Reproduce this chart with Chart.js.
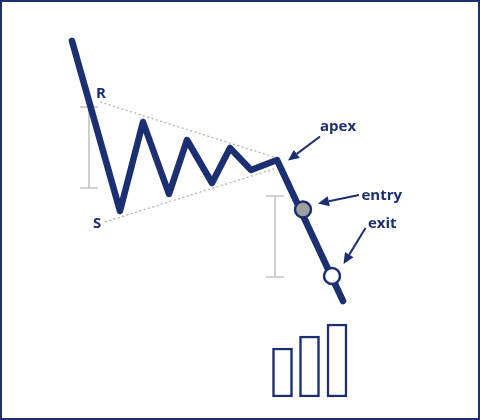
<!DOCTYPE html>
<html>
<head>
<meta charset="utf-8">
<script src="https://cdn.jsdelivr.net/npm/chart.js@4/dist/chart.umd.min.js"></script>
<style>
html,body{margin:0;padding:0;background:#fff;}
#wrap{position:relative;width:480px;height:420px;}
canvas{display:block;}
</style>
</head>
<body>
<div id="wrap"><canvas id="c" width="480" height="420"></canvas></div>
<script>
// ---- data (time units on x, price units on y) ----
const priceDays   = [72, 120, 143, 169, 187, 212, 230, 251, 277, 343];
const priceValues = [379, 209, 298, 226, 280, 237, 272, 250, 260, 119];

const resistanceDays   = [100, 277];
const resistanceValues = [318, 262];
const supportDays      = [105, 277];
const supportValues    = [198, 252];

const signalDays   = [303, 332];
const signalValues = [210.5, 144];
const signalNames  = ['entry', 'exit'];

const rangeDays  = [89, 275];
const rangeHighs = [313, 224];
const rangeLows  = [232, 143];

const volumeDays   = [282.5, 309.5, 337];
const volumeTops   = [72, 84, 96];
const volumeBase   = 23;

const labelTexts = ['R', 'S', 'apex', 'entry', 'exit'];

// ---- styling / layout (not data) ----
const NAVY = '#1b2f72';
const GREY_LINE = '#c4c4c4';
const CAP = 9;
const labelPos = [
  {x: 96, y: 322}, {x: 93, y: 192}, {x: 320, y: 289}, {x: 361.5, y: 220}, {x: 368, y: 192}
];
const arrows = [
  {from: {x: 320, y: 283.5}, to: {x: 288, y: 259.5}},
  {from: {x: 359, y: 225}, to: {x: 318, y: 216.5}},
  {from: {x: 365.5, y: 192}, to: {x: 343.5, y: 156}}
];

const pts = (xs, ys) => xs.map((x, i) => ({x, y: ys[i]}));

const rangeDatasets = [];
rangeDays.forEach((d, i) => {
  rangeDatasets.push({
    type: 'line',
    data: [
      {x: d - CAP, y: rangeHighs[i]}, {x: d + CAP, y: rangeHighs[i]}, {x: d, y: null},
      {x: d, y: rangeHighs[i]}, {x: d, y: rangeLows[i]}, {x: d, y: null},
      {x: d - CAP, y: rangeLows[i]}, {x: d + CAP, y: rangeLows[i]}
    ],
    borderColor: GREY_LINE, borderWidth: 1.6, pointRadius: 0, spanGaps: false, order: 5
  });
});

const overlay = {
  id: 'overlay',
  afterDatasetsDraw(chart) {
    const {ctx, scales: {x, y}} = chart;
    ctx.save();
    // arrows
    ctx.strokeStyle = NAVY; ctx.fillStyle = NAVY; ctx.lineWidth = 2;
    arrows.forEach(a => {
      const x1 = x.getPixelForValue(a.from.x), y1 = y.getPixelForValue(a.from.y);
      const x2 = x.getPixelForValue(a.to.x), y2 = y.getPixelForValue(a.to.y);
      const ang = Math.atan2(y2 - y1, x2 - x1);
      const L = 11, W = 5;
      const bx = x2 - L * Math.cos(ang), by = y2 - L * Math.sin(ang);
      ctx.beginPath(); ctx.moveTo(x1, y1); ctx.lineTo(bx, by); ctx.stroke();
      ctx.beginPath();
      ctx.moveTo(x2, y2);
      ctx.lineTo(bx + W * Math.sin(ang), by - W * Math.cos(ang));
      ctx.lineTo(bx - W * Math.sin(ang), by + W * Math.cos(ang));
      ctx.closePath(); ctx.fill();
    });
    // labels
    ctx.font = 'bold 15px "Open Sans", sans-serif';
    ctx.textAlign = 'left'; ctx.textBaseline = 'alphabetic';
    labelTexts.forEach((t, i) => {
      ctx.fillText(t, x.getPixelForValue(labelPos[i].x), y.getPixelForValue(labelPos[i].y));
    });
    // frame
    ctx.strokeStyle = NAVY; ctx.lineWidth = 2;
    ctx.strokeRect(1, 1, chart.width - 2, chart.height - 2);
    ctx.restore();
  }
};

new Chart(document.getElementById('c'), {
  type: 'scatter',
  data: {
    datasets: [
      {
        type: 'line', label: 'price', data: pts(priceDays, priceValues),
        borderColor: NAVY, borderWidth: 6.5, pointRadius: 0, tension: 0,
        borderCapStyle: 'round', borderJoinStyle: 'round', order: 2
      },
      {
        type: 'line', label: 'resistance', data: pts(resistanceDays, resistanceValues),
        borderColor: '#b0b0b0', borderWidth: 1.3, borderDash: [2, 2.5], pointRadius: 0, order: 4
      },
      {
        type: 'line', label: 'support', data: pts(supportDays, supportValues),
        borderColor: '#b0b0b0', borderWidth: 1.3, borderDash: [2, 2.5], pointRadius: 0, order: 4
      },
      ...rangeDatasets,
      {
        type: 'scatter', label: 'signals', data: pts(signalDays, signalValues),
        pointRadius: 8, borderWidth: 2.5, borderColor: NAVY,
        pointBackgroundColor: signalNames.map(n => n === 'entry' ? '#a0a0a0' : '#ffffff'),
        order: 1
      },
      {
        type: 'bar', label: 'volume',
        data: volumeDays.map((d, i) => ({x: d, y: [volumeBase, volumeTops[i]]})),
        backgroundColor: '#ffffff', borderColor: NAVY, borderWidth: 2.5,
        borderSkipped: false, barThickness: 20, order: 3
      }
    ]
  },
  options: {
    responsive: false, animation: false, devicePixelRatio: 1,
    layout: {padding: 0, autoPadding: false},
    plugins: {legend: {display: false}, tooltip: {enabled: false}},
    scales: {
      x: {type: 'linear', min: 0, max: 480, display: false, offset: false},
      y: {type: 'linear', min: 0, max: 420, display: false}
    }
  },
  plugins: [overlay]
});
</script>
</body>
</html>
